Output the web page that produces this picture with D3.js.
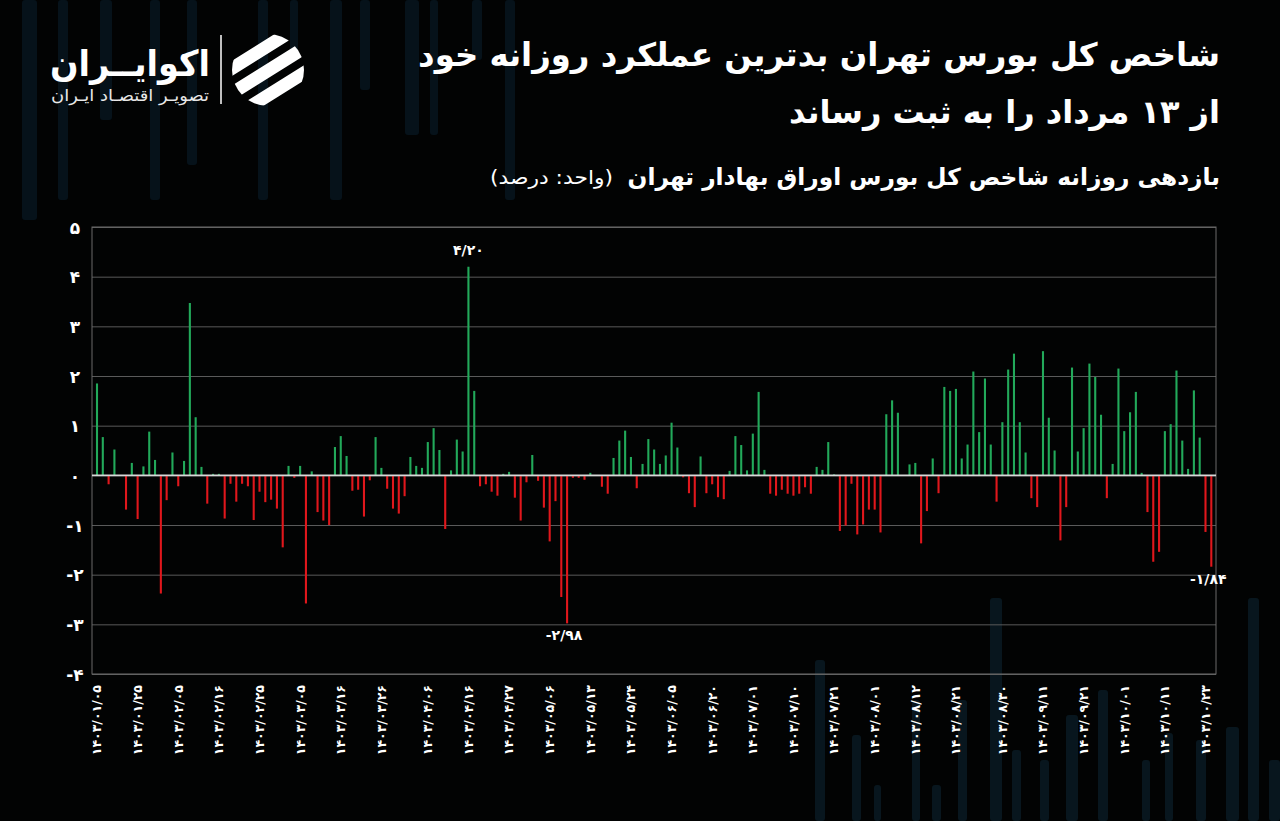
<!DOCTYPE html>
<html>
<head>
<meta charset="utf-8">
<script src="https://cdn.jsdelivr.net/npm/d3@7/dist/d3.min.js"></script>
<style>
  html, body { margin: 0; padding: 0; background: #020303; }
  svg { display: block; }
  text { font-family: "DejaVu Sans", "Noto Sans", sans-serif; }
</style>
</head>
<body>
<svg id="chart" width="1280" height="821"></svg>
<script>
// ---------------- DATA ----------------
const titleLine1 = "شاخص کل بورس تهران بدترین عملکرد روزانه خود";
const titleLine2 = "از ۱۳ مرداد را به ثبت رساند";
const subtitleMain = "بازدهی روزانه شاخص کل بورس اوراق بهادار تهران";
const subtitleUnit = "(واحد: درصد)";
const logoName = "اکوایــران";
const logoTagline = "تصویـر اقتصـاد ایـران";

// daily returns (%), one per trading day, in order
const dailyReturns = [
  1.85, 0.77, -0.18, 0.52, 0, -0.69, 0.25, -0.88, 0.18, 0.88,
  0.31, -2.38, -0.5, 0.46, -0.22, 0.29, 3.47, 1.17, 0.17, -0.57,
  0.03, 0.03, -0.87, -0.17, -0.53, -0.17, -0.22, -0.9, -0.33, -0.54,
  -0.49, -0.67, -1.45, 0.19, -0.05, 0.19, -2.58, 0.08, -0.74, -0.91,
  -1.0, 0.57, 0.79, 0.39, -0.31, -0.29, -0.83, -0.1, 0.77, 0.15,
  -0.27, -0.67, -0.77, -0.42, 0.37, 0.19, 0.15, 0.67, 0.95, 0.51,
  -1.08, 0.1, 0.72, 0.48, 4.2, 1.7, -0.22, -0.18, -0.33, -0.41,
  0.03, 0.07, -0.45, -0.91, -0.14, 0.41, -0.11, -0.65, -1.33, -0.52,
  -2.45, -2.98, -0.05, -0.05, -0.09, 0.05, 0, -0.23, -0.37, 0.35,
  0.7, 0.9, 0.37, -0.26, 0.23, 0.73, 0.52, 0.23, 0.4, 1.06,
  0.56, -0.04, -0.36, -0.64, 0.38, -0.36, -0.18, -0.44, -0.48, 0.09,
  0.79, 0.61, 0.1, 0.84, 1.68, 0.11, -0.37, -0.41, -0.29, -0.37,
  -0.41, -0.37, -0.24, -0.37, 0.17, 0.11, 0.67, 0.02, -1.12, -1.01,
  -0.17, -1.19, -0.99, -0.69, -0.69, -1.15, 1.23, 1.51, 1.26, 0,
  0.22, 0.25, -1.37, -0.72, 0.34, -0.36, 1.78, 1.7, 1.74, 0.34,
  0.62, 2.09, 0.87, 1.95, 0.62, -0.53, 1.07, 2.13, 2.45, 1.07,
  0.46, -0.46, -0.64, 2.5, 1.16, 0.5, -1.31, -0.64, 2.17, 0.48,
  0.95, 2.25, 1.98, 1.22, -0.46, 0.23, 2.15, 0.89, 1.27, 1.68,
  0.05, -0.74, -1.74, -1.54, 0.89, 1.03, 2.11, 0.7, 0.13, 1.71,
  0.76, -1.14, -1.84
];

// x-axis date labels and the trading-day index each one sits on
const tickLabels = [
  "۱۴۰۳/۰۱/۰۵", "۱۴۰۳/۰۱/۲۵", "۱۴۰۳/۰۲/۰۵", "۱۴۰۳/۰۲/۱۶", "۱۴۰۳/۰۲/۲۵",
  "۱۴۰۳/۰۳/۰۵", "۱۴۰۳/۰۳/۱۶", "۱۴۰۳/۰۳/۲۶", "۱۴۰۳/۰۴/۰۶", "۱۴۰۳/۰۴/۱۶",
  "۱۴۰۳/۰۴/۲۷", "۱۴۰۳/۰۵/۰۶", "۱۴۰۳/۰۵/۱۳", "۱۴۰۳/۰۵/۲۴", "۱۴۰۳/۰۶/۰۵",
  "۱۴۰۳/۰۶/۲۰", "۱۴۰۳/۰۷/۰۱", "۱۴۰۳/۰۷/۱۰", "۱۴۰۳/۰۷/۲۱", "۱۴۰۳/۰۸/۰۱",
  "۱۴۰۳/۰۸/۱۲", "۱۴۰۳/۰۸/۲۱", "۱۴۰۳/۰۸/۳۰", "۱۴۰۳/۰۹/۱۱", "۱۴۰۳/۰۹/۲۱",
  "۱۴۰۳/۱۰/۰۱", "۱۴۰۳/۱۰/۱۱", "۱۴۰۳/۱۰/۲۳"
];
const tickIndex = [0, 7, 14, 21, 28, 35, 42, 49, 57, 64, 71, 78, 85, 92, 99,
  106, 113, 120, 127, 134, 141, 148, 156, 163, 170, 177, 184, 191];

// y-axis ticks and their labels
const yTicks = [-4, -3, -2, -1, 0, 1, 2, 3, 4, 5];
const yTickLabels = ["-۴", "-۳", "-۲", "-۱", "۰", "۱", "۲", "۳", "۴", "۵"];

// annotated bars
const annotations = [
  { index: 64, text: "۴/۲۰" },
  { index: 81, text: "-۲/۹۸" },
  { index: 192, text: "-۱/۸۴" }
];

// ---------------- LAYOUT ----------------
const W = 1280, H = 821;
const plot = { left: 92, right: 1216, top: 227, bottom: 674 };
const colors = { up: "#22a95a", down: "#e0171c", grid: "#5a5a5a", zero: "#d8d8d8", frame: "#6a6a6a", text: "#ffffff" };

const svg = d3.select("#chart");
svg.append("rect").attr("width", W).attr("height", H).attr("fill", "#020303");

// faint decorative background columns (brand backdrop)
const decoTL = svg.append("g").attr("fill", "#06121a");
[[22,0,15,220],[58,0,10,200],[100,0,12,120],[150,0,10,200],[187,0,10,165],
 [258,0,10,200],[290,0,8,60],[330,0,12,200],[360,0,10,90],[405,0,14,135],
 [430,0,8,135],[472,0,10,60],[505,0,10,200]].forEach(r =>
  decoTL.append("rect").attr("x", r[0]).attr("y", r[1]).attr("width", r[2]).attr("height", r[3]).attr("rx", 3));
const decoBR = svg.append("g").attr("fill", "#08161e");
[[815,660,10,161],[852,735,9,86],[874,785,7,36],[912,700,8,121],[932,785,9,36],
 [958,700,9,121],[990,598,12,223],[1012,750,9,71],[1040,760,9,61],[1066,715,12,106],
 [1098,690,10,131],[1142,760,8,61],[1165,733,8,88],[1196,740,10,81],[1226,727,13,94],
 [1248,598,11,223],[1269,760,11,61]].forEach(r =>
  decoBR.append("rect").attr("x", r[0]).attr("y", r[1]).attr("width", r[2]).attr("height", r[3]).attr("rx", 3));

// ---------------- SCALES ----------------
const x = d3.scaleBand()
  .domain(d3.range(dailyReturns.length))
  .range([94.1, 1214.2])
  .padding(0);
const y = d3.scaleLinear().domain([-4, 5]).range([plot.bottom, plot.top]);
const barW = 2.1;

// grid
const grid = svg.append("g")
  .attr("transform", `translate(${plot.left},0)`)
  .call(d3.axisLeft(y).tickValues(yTicks).tickSize(-(plot.right - plot.left)).tickFormat(""));
grid.select(".domain").remove();
grid.selectAll(".tick line").attr("stroke", colors.grid).attr("stroke-width", 1);

// frame
svg.append("rect")
  .attr("x", plot.left).attr("y", plot.top)
  .attr("width", plot.right - plot.left).attr("height", plot.bottom - plot.top)
  .attr("fill", "none").attr("stroke", colors.frame).attr("stroke-width", 1);

// bars
svg.append("g").selectAll("rect")
  .data(dailyReturns)
  .join("rect")
  .attr("x", (d, i) => x(i) + x.bandwidth() / 2 - barW / 2)
  .attr("width", barW)
  .attr("y", d => d >= 0 ? y(d) : y(0))
  .attr("height", d => Math.abs(y(d) - y(0)))
  .attr("fill", d => d >= 0 ? colors.up : colors.down);

// zero line
svg.append("line")
  .attr("x1", plot.left).attr("x2", plot.right)
  .attr("y1", y(0)).attr("y2", y(0))
  .attr("stroke", colors.zero).attr("stroke-width", 1.6);

// y axis labels
const yAxis = svg.append("g")
  .attr("transform", `translate(75,0)`)
  .call(d3.axisLeft(y).tickValues(yTicks).tickSize(0).tickPadding(0)
    .tickFormat((d, i) => yTickLabels[i]));
yAxis.select(".domain").remove();
yAxis.selectAll("text")
  .attr("fill", colors.text).attr("font-size", 17).attr("font-weight", "bold")
  .attr("text-anchor", "middle").attr("x", 0).attr("dy", "0.36em")
  .style("font-family", '"DejaVu Sans", sans-serif');

// x axis labels
const xAxis = svg.append("g")
  .attr("transform", `translate(0,${plot.bottom})`)
  .call(d3.axisBottom(x).tickValues(tickIndex).tickSize(0)
    .tickFormat((d, i) => tickLabels[i]));
xAxis.select(".domain").remove();
xAxis.selectAll("text")
  .attr("fill", colors.text).attr("font-size", 12.5).attr("font-weight", "bold")
  .attr("text-anchor", "end")
  .attr("transform", "rotate(-90)")
  .attr("x", -11).attr("y", 0).attr("dy", "0.35em")
  .style("font-family", '"DejaVu Sans", sans-serif');

// annotations
annotations.forEach(a => {
  const v = dailyReturns[a.index];
  const cx = x(a.index) + x.bandwidth() / 2;
  svg.append("text")
    .attr("x", v >= 0 ? cx : cx - 3)
    .attr("y", v >= 0 ? y(v) - 12 : y(v) + 17)
    .attr("text-anchor", "middle")
    .attr("fill", colors.text).attr("font-size", 14).attr("font-weight", "bold")
    .text(a.text);
});

// ---------------- TITLES ----------------
function fitText(sel, len) {
  return sel.attr("textLength", len).attr("lengthAdjust", "spacingAndGlyphs");
}
svg.append("text").attr("x", 1220).attr("y", 66)
  .attr("text-anchor", "end").attr("fill", colors.text)
  .attr("font-size", 32.3).attr("font-weight", "bold")
  .text(titleLine1);
svg.append("text").attr("x", 1220).attr("y", 123)
  .attr("text-anchor", "end").attr("fill", colors.text)
  .attr("font-size", 32).attr("font-weight", "bold")
  .text(titleLine2);
svg.append("text").attr("x", 1220).attr("y", 185)
  .attr("text-anchor", "end").attr("fill", colors.text)
  .attr("font-size", 23.3).attr("font-weight", "bold")
  .text(subtitleMain);
fitText(svg.append("text").attr("x", 613).attr("y", 184)
  .attr("text-anchor", "end").attr("fill", colors.text)
  .attr("font-size", 19)
  .text(subtitleUnit), 123);

// ---------------- LOGO ----------------
const logo = svg.append("g");
fitText(logo.append("text").attr("x", 210).attr("y", 76)
  .attr("text-anchor", "end").attr("fill", colors.text)
  .attr("font-size", 36).attr("font-weight", "bold").text(logoName), 160);
fitText(logo.append("text").attr("x", 209).attr("y", 101)
  .attr("text-anchor", "end").attr("fill", "#e8e8e8")
  .attr("font-size", 16).text(logoTagline), 158);
logo.append("line").attr("x1", 221).attr("x2", 221).attr("y1", 35).attr("y2", 104)
  .attr("stroke", "#ffffff").attr("stroke-width", 1.5);
const defs = svg.append("defs");
defs.append("clipPath").attr("id", "logoClip")
  .append("circle").attr("cx", 268).attr("cy", 70).attr("r", 36);
const icon = logo.append("g").attr("clip-path", "url(#logoClip)");
const ig = icon.append("g").attr("transform", "translate(268,70) rotate(-32)");
[-27, -6, 15].forEach(o =>
  ig.append("rect").attr("x", -60).attr("y", o).attr("width", 120).attr("height", 13)
    .attr("rx", 6).attr("fill", "#ffffff"));
</script>
</body>
</html>
